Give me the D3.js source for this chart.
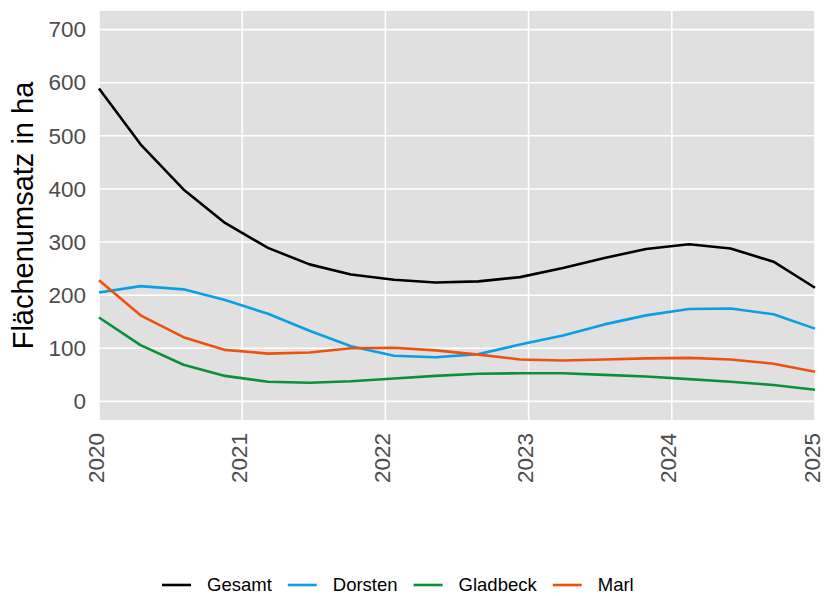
<!DOCTYPE html>
<html>
<head>
<meta charset="utf-8">
<script src="https://cdn.jsdelivr.net/npm/d3@7"></script>
<style>
  html, body { margin: 0; padding: 0; background: #fff; }
  svg { display: block; font-family: "Liberation Sans", Arial, sans-serif; }
</style>
</head>
<body>
<div id="chart"></div>
<script>
// time axis (decimal years) and series
var years = [2020.00, 2020.29, 2020.59, 2020.88, 2021.18, 2021.47, 2021.76, 2022.06, 2022.35,
             2022.65, 2022.94, 2023.24, 2023.53, 2023.82, 2024.12, 2024.41, 2024.71, 2025.00];
var gesamt   = [589, 484, 399, 336, 289, 258, 239, 229, 224, 226, 234, 251, 270, 287, 296, 288, 263, 214];
var dorsten  = [205, 217, 211, 191, 165, 133, 104, 86, 83, 89, 107, 124, 145, 162, 174, 175, 164, 137];
var gladbeck = [158, 106, 69, 48, 37, 35, 38, 43, 48, 52, 53, 53, 50, 47, 42, 37, 31, 22];
var marl     = [228, 162, 121, 97, 90, 92, 100, 101, 96, 88, 79, 77, 79, 81, 82, 79, 71, 56];

var seriesNames = ["Gesamt", "Dorsten", "Gladbeck", "Marl"];
var seriesVals = [gesamt, dorsten, gladbeck, marl];
var colors = ["#000000", "#0a9fe3", "#0a9138", "#eb520f"];

var xTicks = [2020, 2021, 2022, 2023, 2024, 2025];
var yTicks = [0, 100, 200, 300, 400, 500, 600, 700];

(function () {
  var W = 825, H = 596;
  var m = { left: 99, right: 10, top: 11, bottom: 176 };
  var pw = W - m.left - m.right, ph = H - m.top - m.bottom;

  var svg = d3.select("#chart").append("svg")
    .attr("width", W).attr("height", H);

  var x = d3.scaleLinear().domain([2020, 2025]).range([m.left, m.left + pw]);
  var y = d3.scaleLinear().domain([-35, 735]).range([m.top + ph, m.top]);

  // panel + grid
  svg.append("rect")
    .attr("x", m.left).attr("y", m.top).attr("width", pw).attr("height", ph)
    .attr("fill", "#e0e0e0");
  var grid = svg.append("g").attr("stroke", "#fff").attr("stroke-width", 1.6);
  grid.selectAll("line.h").data(yTicks).join("line").attr("class", "h")
    .attr("x1", m.left).attr("x2", m.left + pw)
    .attr("y1", function (d) { return y(d); }).attr("y2", function (d) { return y(d); });
  grid.selectAll("line.v").data(xTicks).join("line").attr("class", "v")
    .attr("y1", m.top).attr("y2", m.top + ph)
    .attr("x1", function (d) { return x(d); }).attr("x2", function (d) { return x(d); });

  // y axis labels
  var yAxis = svg.append("g")
    .attr("transform", "translate(" + m.left + ",0)")
    .call(d3.axisLeft(y).tickValues(yTicks).tickSize(0).tickPadding(13));
  yAxis.select(".domain").remove();
  yAxis.selectAll("text").attr("font-size", 22.5).attr("fill", "#4d4d4d")
    .attr("font-family", "Liberation Sans, Arial, sans-serif");

  // x axis labels, rotated
  var xAxis = svg.append("g")
    .attr("transform", "translate(0," + (m.top + ph) + ")")
    .call(d3.axisBottom(x).tickValues(xTicks).tickSize(0).tickFormat(d3.format("d")));
  xAxis.select(".domain").remove();
  xAxis.selectAll("text")
    .attr("font-size", 22.5).attr("fill", "#4d4d4d")
    .attr("font-family", "Liberation Sans, Arial, sans-serif")
    .attr("text-anchor", "end")
    .attr("transform", "translate(4,13) rotate(-90)")
    .attr("x", 0).attr("y", 0).attr("dy", 0);

  // y title
  svg.append("text")
    .attr("transform", "translate(33," + (m.top + ph / 2) + ") rotate(-90)")
    .attr("text-anchor", "middle")
    .attr("font-size", 29).attr("fill", "#000")
    .text("Flächenumsatz in ha");

  // lines
  var line = d3.line()
    .x(function (d) { return x(d[0]); })
    .y(function (d) { return y(d[1]); });
  var lineG = svg.append("g");
  seriesVals.forEach(function (vals, i) {
    lineG.append("path")
      .datum(years.map(function (yr, j) { return [yr, vals[j]]; }))
      .attr("d", line)
      .attr("fill", "none")
      .attr("stroke", colors[i])
      .attr("stroke-width", 2.6)
      .attr("stroke-linejoin", "round");
  });

  // legend
  var lg = svg.append("g");
  var lx = 162, ly = 585;
  seriesNames.forEach(function (name, i) {
    lg.append("line")
      .attr("x1", lx).attr("x2", lx + 29).attr("y1", ly).attr("y2", ly)
      .attr("stroke", colors[i]).attr("stroke-width", 2.6);
    var t = lg.append("text")
      .attr("x", lx + 45).attr("y", 591)
      .attr("font-size", 18.5).attr("fill", "#000")
      .text(name);
    lx = lx + 45 + t.node().getComputedTextLength() + 16;
  });
})();
</script>
</body>
</html>
